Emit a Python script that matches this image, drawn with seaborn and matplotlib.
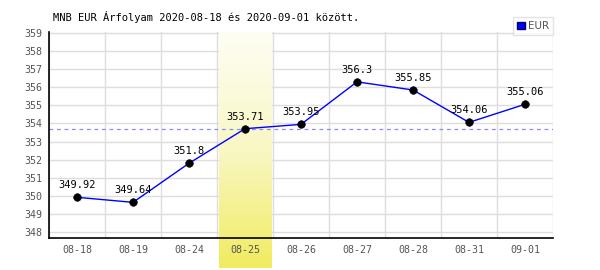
import numpy as np
import pandas as pd
import matplotlib
matplotlib.use("Agg")
import matplotlib.pyplot as plt
import seaborn as sns
from matplotlib.patches import Patch
from matplotlib.colors import LinearSegmentedColormap

dates = ["08-18", "08-19", "08-24", "08-25", "08-26", "08-27", "08-28", "08-31", "09-01"]
values = [349.92, 349.64, 351.8, 353.71, 353.95, 356.3, 355.85, 354.06, 355.06]
yticks = list(range(348, 360))
highlight = "08-25"
title = "MNB EUR Árfolyam 2020-08-18 és 2020-09-01 között."
series_name = "EUR"

df = pd.DataFrame({"pos": np.arange(len(dates)), "date": dates, "value": values})

sns.set_style("white")
plt.rcParams["font.family"] = ["DejaVu Sans Mono", "DejaVu Sans"]
FS = 7.2

fig = plt.figure(figsize=(6, 2.7), dpi=100)
ax = fig.add_axes([49/600, 32/270, 504/600, 206/270])

ylo, yhi = 347.67, 359.055
ax.set_xlim(-0.5, len(dates) - 0.5)
ax.set_ylim(ylo, yhi)

# grid
ax.set_yticks(yticks)
ax.set_xticks(df["pos"])
ax.set_xticks(np.arange(-0.5, len(dates)), minor=True)
ax.grid(True, axis="y", which="major", color="#dddddd", lw=1)
ax.grid(True, axis="x", which="minor", color="#dddddd", lw=1)
ax.set_axisbelow(True)

# highlight band with gradient (inside axes above grid, below axes under tick labels)
hi = dates.index(highlight)
cmap = LinearSegmentedColormap.from_list("hl", ["#fefef4", "#f9f7c4", "#f0ec60"])
ybottom = 348 - 36 / 18.09
frac = (yhi - ylo) / (yhi - ybottom)
grad_in = np.linspace(0, frac, 256).reshape(-1, 1)
grad_out = np.linspace(frac, 1, 64).reshape(-1, 1)
ax.imshow(grad_in, cmap=cmap, vmin=0, vmax=1, aspect="auto", origin="upper",
          extent=(hi - 0.47, hi + 0.47, ylo, yhi), zorder=1)
ax.imshow(grad_out, cmap=cmap, vmin=0, vmax=1, aspect="auto", origin="upper",
          extent=(hi - 0.47, hi + 0.47, ybottom, ylo), clip_on=False, zorder=0.3)
ax.set_xlim(-0.5, len(dates) - 0.5)
ax.set_ylim(ylo, yhi)

# reference dashed line at highlighted value
ax.axhline(values[hi], color="#8888ff", lw=0.9, ls=(0, (3, 3)), zorder=2)

sns.lineplot(data=df, x="pos", y="value", ax=ax, color="#0000ff", lw=1, zorder=3)
sns.scatterplot(data=df, x="pos", y="value", ax=ax, color="black", s=30,
                edgecolor="black", zorder=4)

for p, v in zip(df["pos"], values):
    ax.annotate(f"{v:g}", (p, v), xytext=(0, 5), textcoords="offset points",
                ha="center", va="bottom", fontsize=FS + 0.3, color="black", zorder=5)

ax.set_xticklabels(dates)
ax.set_xlabel("")
ax.set_ylabel("")
ax.tick_params(axis="both", which="both", length=0, labelsize=FS, labelcolor="#555555")
ax.tick_params(axis="x", pad=5)
ax.tick_params(axis="y", pad=5)
for s in ["top", "right"]:
    ax.spines[s].set_visible(False)
for s in ["left", "bottom"]:
    ax.spines[s].set_color("black")
    ax.spines[s].set_linewidth(1.2)
    ax.spines[s].set_zorder(6)

fig.text(53/600, 1 - 17/270, title, ha="left", va="center", fontsize=FS + 0.3, color="black")

leg = ax.legend(handles=[Patch(facecolor="#0000ff", edgecolor="#000066")], labels=[series_name],
                loc="upper right", bbox_to_anchor=(553/600, 1 - 17/270),
                bbox_transform=fig.transFigure, frameon=True, fancybox=False,
                fontsize=7.5, handlelength=0.7, handleheight=0.7, handletextpad=0.3,
                borderpad=0.4, borderaxespad=0)
leg.get_frame().set_edgecolor("#dddddd")
leg.get_frame().set_linewidth(1)
for t in leg.get_texts():
    t.set_color("#555555")
    t.set_family(["DejaVu Sans"])

fig.savefig("out.png", dpi=100)
